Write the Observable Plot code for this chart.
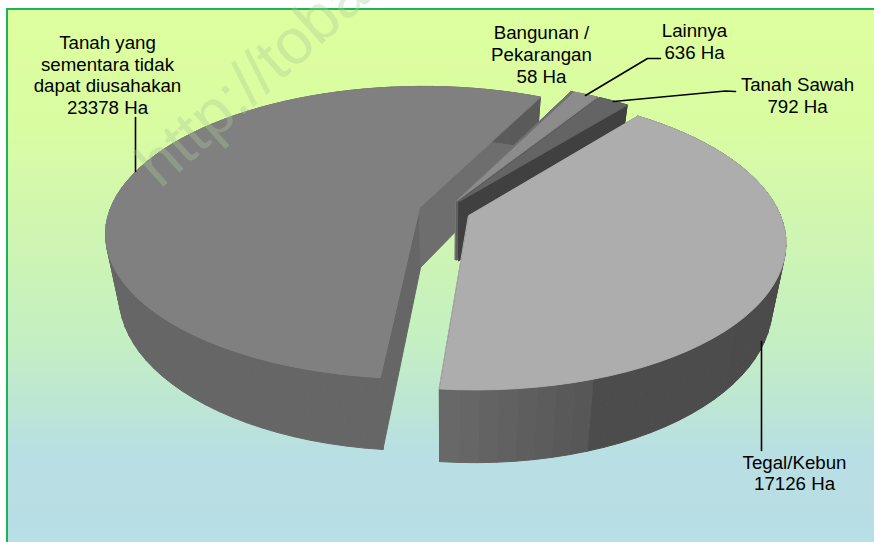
<!DOCTYPE html>
<html><head><meta charset="utf-8">
<script src="https://cdn.jsdelivr.net/npm/d3@7"></script>
<script src="https://cdn.jsdelivr.net/npm/@observablehq/plot@0.6"></script>
<style>
html,body{margin:0;padding:0;background:#fff;overflow:hidden}
#panel{position:absolute;left:6px;top:8px;width:880px;height:540px;box-sizing:border-box;border:2px solid #1db35c;background:linear-gradient(#ddff9e 0%,#d9fca2 22%,#c4efc2 62%,#b8dfe3 83%,#b8dee6 100%)}
#chart{position:absolute;left:0;top:0}
#chart svg{background:transparent!important}
</style></head><body>
<div id="panel"></div><div id="chart"></div>
<script>
const categories = ["Bangunan / Pekarangan","Lainnya","Tanah Sawah","Tegal/Kebun","Tanah yang sementara tidak dapat diusahakan"];
const hectares = [58,636,792,17126,23378];
const labelLines = ["Bangunan /\nPekarangan\n58 Ha","Lainnya\n636 Ha","Tanah Sawah\n792 Ha","Tegal/Kebun\n17126 Ha","Tanah yang\nsementara tidak\ndapat diusahakan\n23378 Ha"];
const topColors = ["#707070","#8c8c8c","#646464","#adadad","#808080"];
const wallStops = [
  [[0,1],["#666666","#666666"]],
  [[0,1],["#5a5a5a","#5a5a5a"]],
  [[0,1],["#404040","#404040"]],
  [[0,0.84,0.85,1],["#4a4a4a","#4c4c4c","#565656","#686868"]],
  [[0,0.6,0.75,1],["#666666","#666666","#626262","#5a5a5a"]]
];
const cutColors = [["#777777","#777777"],["#5f5f5f","#5f5f5f"],["#404040","#404040"],["#555555","#555555"],["#666666","#6e6e6e"]];

const view = {cx:444,cy:210.5,rx:310,ry:143,k:0.17,start:64,explode:0.084,depth:60,lean:2,shrink:0.96};
const total = d3.sum(hectares);
function proj(u,v,lower){
  const w = 1+view.k*v;
  const near = Math.max(0,-v);
  const x0 = view.rx*u/w+view.lean*near*near;
  return {x:view.cx+x0*(lower?view.shrink:1), y:view.cy-view.ry*v/w+(lower?view.depth/w:0)};
}
let rows=[], angle=view.start;
hectares.forEach((val,i)=>{
  const sweep = val/total*360, a0=angle, a1=angle-sweep; angle=a1;
  const mid=(a0+a1)/2*Math.PI/180;
  const ou=view.explode*Math.cos(mid), ov=view.explode*Math.sin(mid);
  const rim=a=>{const t=a*Math.PI/180;return [ou+Math.cos(t),ov+Math.sin(t)];};
  const n=Math.max(2,Math.ceil(sweep/3));
  const arc=d3.range(n+1).map(j=>a0+(a1-a0)*j/n);
  let id=0;
  const quad=(pts,fill)=>pts.forEach(p=>rows.push({id:i+"-"+id,x:p.x,y:p.y,fill}));
  const tip0=proj(ou,ov,false),tip1=proj(ou,ov,true);
  const wallShade=d3.scaleLinear().domain(wallStops[i][0]).range(wallStops[i][1]);
  const [s0,s1]=[rim(a0),rim(a1)];
  quad([tip0,proj(...s0,false),proj(...s0,true),tip1],cutColors[i][0]);id++;
  quad([tip0,proj(...s1,false),proj(...s1,true),tip1],cutColors[i][1]);id++;
  for(let j=0;j<n;j++){
    const p=rim(arc[j]),q=rim(arc[j+1]);
    quad([proj(...p,false),proj(...q,false),proj(...q,true),proj(...p,true)],wallShade(j/(n-1||1)));id++;
  }
  const top=[tip0,...arc.map(a=>proj(...rim(a),false))];
  top.forEach(p=>rows.push({id:i+"-"+id,x:p.x,y:p.y,fill:topColors[i]}));
});
const order=[4,0,1,2,3];
const sorted=order.flatMap(i=>rows.filter(r=>r.id.startsWith(i+"-")));

const labelPlace = {x:[541,694,797,794,107],y:[53.5,40.5,94.5,472,74]};
const labels = labelLines.map((text,i)=>({text,x:labelPlace.x[i],y:labelPlace.y[i]}));
const leaders = [
 {id:"a",x:660,y:58},{id:"a",x:647,y:58},{id:"a",x:585,y:95},
 {id:"b",x:735,y:91},{id:"b",x:725,y:90.5},{id:"b",x:613,y:101},
 {id:"c",x:761,y:341},{id:"c",x:761,y:450},
 {id:"d",x:135,y:117},{id:"d",x:135,y:171}
];
const font="Liberation Sans, Arial, sans-serif";
const plot = Plot.plot({
  width:874,height:542,margin:0,
  x:{domain:[0,874],axis:null},y:{domain:[542,0],axis:null},
  color:{type:"identity"},
  style:{background:"transparent"},
  marks:[
    Plot.line(sorted,{x:"x",y:"y",z:"id",fill:"fill",stroke:"fill",strokeWidth:1,curve:"linear-closed"}),
    Plot.line(leaders,{x:"x",y:"y",z:"id",stroke:"#000",strokeWidth:1.6}),
    Plot.text(labels,{x:"x",y:"y",text:"text",fontFamily:font,fontSize:18.7,lineHeight:1.16,fill:"#000"}),
    Plot.text(["http://toba"],{x:()=>146,y:()=>174,rotate:-42,textAnchor:"start",fontFamily:font,fontSize:64,fill:"#aac896",fillOpacity:0.35})
  ]
});
document.getElementById("chart").append(plot);
</script></body></html>
